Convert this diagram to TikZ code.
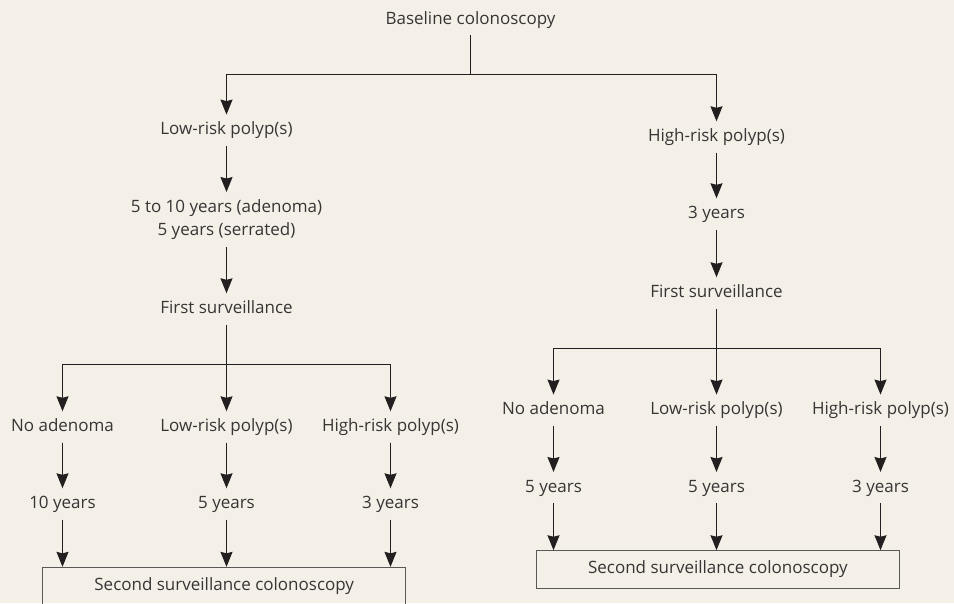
\documentclass[tikz,border=0pt]{standalone}
\usepackage{fontspec}
\setmainfont{Open Sans}
\usepackage{xcolor}
\usepackage{tikz}
\usetikzlibrary{arrows.meta,positioning}
\definecolor{paper}{RGB}{244, 240, 232}
\definecolor{inkdark}{RGB}{35, 31, 32}
\definecolor{inktext}{RGB}{55, 52, 52}
\definecolor{boxline}{RGB}{90, 88, 86}

\tikzset{
  lbl/.style={anchor=base, text=inktext, font=\fontsize{17}{20}\selectfont,
    text height=18pt, text depth=9pt, inner xsep=2pt, inner ysep=2pt},
  twolbl/.style={anchor=center, align=center, text=inktext,
    font=\fontsize{17}{23.3}\selectfont, inner xsep=2pt, inner ysep=7pt},
  survbox/.style={draw=boxline, line width=0.9pt, text=inktext,
    font=\fontsize{17}{20}\selectfont, minimum width=363pt,
    minimum height=37.6pt, inner sep=0pt},
  link/.style={draw=inkdark, line width=1.2pt},
  arr/.style={link, -{Stealth[length=15pt,width=12pt,inset=1.5pt]}}
}

\begin{document}
\begin{tikzpicture}[x=1pt, y=-1pt]
            \useasboundingbox (0,0) rectangle (954,603);
            \clip (0,0) rectangle (954,603);
            \fill[paper] (0,0) rectangle (954,603);

            % Baseline and first split
            \node[lbl] (base) at (470.5,24) {Baseline colonoscopy};
            \coordinate (jtop) at (470.5,74.5);
            \draw[link] (base) -- (jtop);

            % Low-risk branch
            \node[lbl] (low) at (226.5,134.8) {Low-risk polyp(s)};
            \node[twolbl] (lowint) at (226.5,219.4) {5 to 10 years (adenoma)\\5 years (serrated)};
            \node[lbl] (lowfs) at (226.5,313.5) {First surveillance};
            \draw[arr] (jtop) -| (low);
            \draw[arr] (low) -- (lowint);
            \draw[arr] (lowint) -- (lowfs);

            \coordinate (jleft) at (226.5,364.5);
            \node[lbl] (lna) at (62.5,431.5) {No adenoma};
            \node[lbl] (llr) at (226.5,431.5) {Low-risk polyp(s)};
            \node[lbl] (lhr) at (390.5,431.5) {High-risk polyp(s)};
            \draw[link] (lowfs) -- (jleft);
            \draw[arr] (jleft) -| (lna);
            \draw[arr] (jleft) -- (llr);
            \draw[arr] (jleft) -| (lhr);

            \node[lbl] (lnay) at (62.5,508.5) {10 years};
            \node[lbl] (llry) at (226.5,508.5) {5 years};
            \node[lbl] (lhry) at (390.5,508.5) {3 years};
            \draw[arr] (lna) -- (lnay);
            \draw[arr] (llr) -- (llry);
            \draw[arr] (lhr) -- (lhry);

            \node[survbox] (lsecond) at (224.2,586.1) {Second surveillance colonoscopy};
            \draw[arr] (lnay) -- (lnay |- lsecond.north);
            \draw[arr] (llry) -- (llry |- lsecond.north);
            \draw[arr] (lhry) -- (lhry |- lsecond.north);

            % High-risk branch
            \node[lbl] (high) at (716.5,141.5) {High-risk polyp(s)};
            \node[lbl] (highint) at (716.5,218.5) {3 years};
            \node[lbl] (highfs) at (716.5,297.5) {First surveillance};
            \draw[arr] (jtop) -| (high);
            \draw[arr] (high) -- (highint);
            \draw[arr] (highint) -- (highfs);

            \coordinate (jright) at (716.5,348.5);
            \node[lbl] (rna) at (553.5,414.8) {No adenoma};
            \node[lbl] (rlr) at (716.5,414.8) {Low-risk polyp(s)};
            \node[lbl] (rhr) at (880.5,414.8) {High-risk polyp(s)};
            \draw[link] (highfs) -- (jright);
            \draw[arr] (jright) -| (rna);
            \draw[arr] (jright) -- (rlr);
            \draw[arr] (jright) -| (rhr);

            \node[lbl] (rnay) at (553.5,492.2) {5 years};
            \node[lbl] (rlry) at (716.5,492.2) {5 years};
            \node[lbl] (rhry) at (880.5,492.2) {3 years};
            \draw[arr] (rna) -- (rnay);
            \draw[arr] (rlr) -- (rlry);
            \draw[arr] (rhr) -- (rhry);

            \node[survbox] (rsecond) at (717.85,569.5) {Second surveillance colonoscopy};
            \draw[arr] (rnay) -- (rnay |- rsecond.north);
            \draw[arr] (rlry) -- (rlry |- rsecond.north);
            \draw[arr] (rhry) -- (rhry |- rsecond.north);
        \end{tikzpicture}
\end{document}
